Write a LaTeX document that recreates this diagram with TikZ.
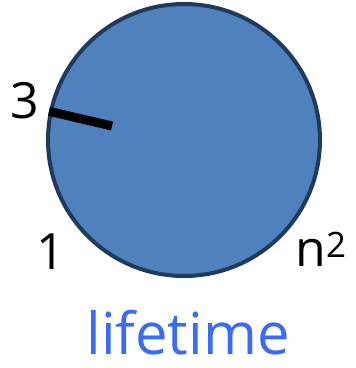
\documentclass[tikz,border=0pt]{standalone}
\usepackage{fontspec}
\setmainfont{Open Sans}
\usetikzlibrary{positioning}
\definecolor{lifeblue}{HTML}{4F81BD}
\definecolor{ringblue}{HTML}{1F3A5C}
\definecolor{wordblue}{HTML}{3A6BF5}
\begin{document}
\begin{tikzpicture}[x=1pt, y=-1pt,
  lbl/.style={font=\fontsize{50}{60}\selectfont, inner sep=0pt},
  dial/.style={circle, draw=ringblue, line width=4pt, fill=lifeblue, minimum size=272pt, inner sep=0pt}]
  \useasboundingbox (0,0) rectangle (356,368);
  \node[dial] (clock) at (184,140) {};
  \coordinate (tick) at (112,126);
  \draw[line width=9pt] (clock.168) -- (tick);
  \node[lbl] (three) at (25,101) {3};
  \node[lbl] (one) at (51,252) {1};
  \node[lbl] (nsq) at (321,249) {n\textsuperscript{2}};
  \node[lbl, text=wordblue, font=\fontsize{58}{66}\selectfont] (life) at (188,333) {lifetime};
\end{tikzpicture}
\end{document}
